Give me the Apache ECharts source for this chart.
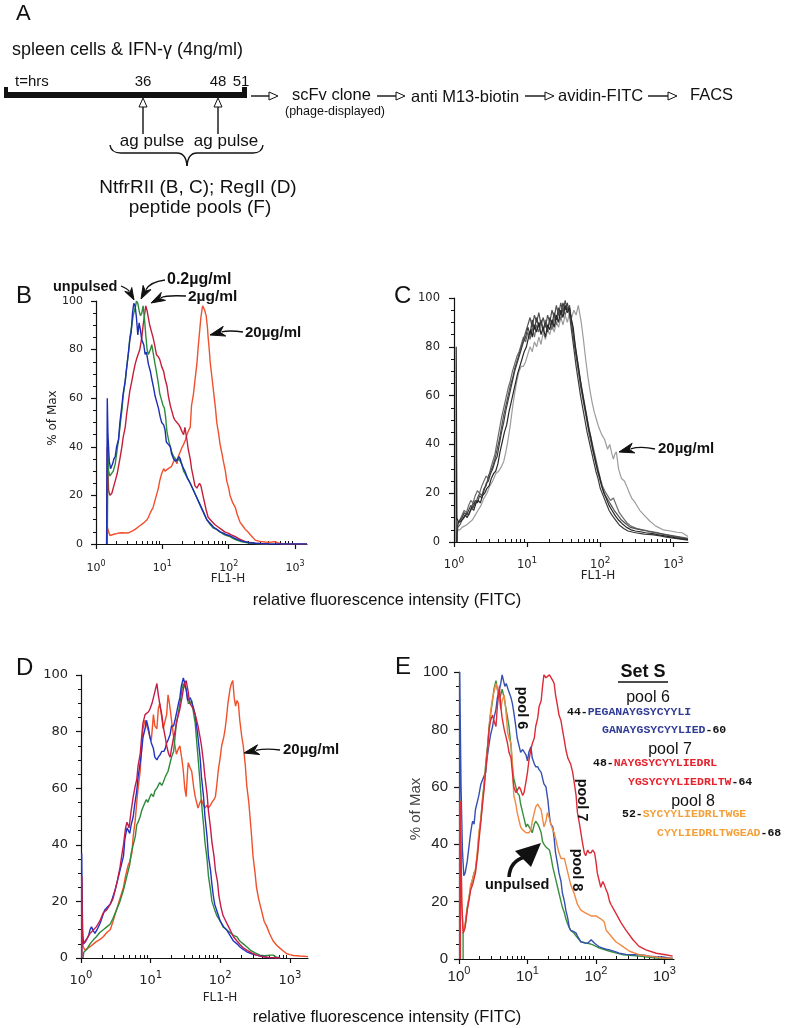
<!DOCTYPE html>
<html><head><meta charset="utf-8">
<script src="https://cdn.jsdelivr.net/npm/echarts@6/dist/echarts.min.js"></script>
<style>html,body{margin:0;padding:0;background:#fff}#c{width:785px;height:1028px}</style>
</head><body><div id="c"></div>
<script>
// ---------- DATA (x = log10 of FL1-H intensity, y = % of Max) ----------
const decadeValues = [0,1,2,3];          // tick labels 10^0 .. 10^3
const yTicks = [0,20,40,60,80,100];

// Panel B
const B_unpulsed = [[0.16,0],[0.17,60],[0.18,45],[0.20,34],[0.22,31],[0.25,33],[0.27,35],[0.29,36],[0.31,40],[0.34,43],[0.36,50],[0.39,57],[0.41,62],[0.44,67],[0.46,72],[0.49,79],[0.51,84],[0.53,87],[0.55,95],[0.57,99],[0.59,98],[0.61,93],[0.63,86],[0.65,91],[0.67,88],[0.69,84],[0.72,82],[0.74,78],[0.76,79],[0.79,74],[0.82,71],[0.84,68],[0.87,64],[0.89,61],[0.92,58],[0.94,56],[0.97,52],[0.99,50],[1.02,49],[1.04,47],[1.06,42],[1.09,41],[1.12,40],[1.14,37],[1.17,35],[1.20,34],[1.23,35],[1.25,36],[1.27,35],[1.29,33],[1.32,31],[1.34,30],[1.38,27],[1.42,25],[1.47,22],[1.52,19],[1.57,16],[1.62,13],[1.67,10],[1.72,8.5],[1.77,7],[1.82,6],[1.87,5],[1.92,4.5],[1.97,3.8],[2.02,3.4],[2.07,2.6],[2.12,2],[2.2,1.2],[2.3,0.6],[2.4,0.3],[2.6,0],[3.18,0]];
const B_02 = [[0.17,0],[0.18,38],[0.19,30],[0.21,28],[0.24,28],[0.26,30],[0.29,33],[0.31,37],[0.34,43],[0.36,48],[0.39,55],[0.41,61],[0.44,67],[0.46,72],[0.49,79],[0.51,85],[0.54,90],[0.56,94],[0.59,97],[0.61,100],[0.63,99],[0.65,96],[0.67,94],[0.69,95],[0.71,98],[0.73,93],[0.75,86],[0.77,80],[0.79,78],[0.82,80],[0.84,82],[0.86,79],[0.89,74],[0.91,71],[0.94,66],[0.96,62],[0.99,59],[1.01,57],[1.03,56],[1.05,52],[1.07,46],[1.10,42],[1.12,40],[1.14,38],[1.17,36],[1.20,35],[1.22,34],[1.25,35],[1.27,34],[1.29,33],[1.32,30],[1.34,29],[1.38,27],[1.42,25],[1.47,22],[1.52,19],[1.57,16],[1.62,13],[1.67,10],[1.72,8],[1.77,6.5],[1.82,6],[1.87,5],[1.92,4],[1.97,3.5],[2.02,3],[2.07,2.2],[2.12,1.6],[2.2,0.9],[2.3,0.4],[2.4,0.2],[2.6,0]];
const B_2 = [[0.16,0],[0.17,40],[0.18,30],[0.19,22],[0.21,20],[0.24,21],[0.27,24],[0.29,26],[0.32,29],[0.34,32],[0.36,35],[0.39,40],[0.41,44],[0.44,48],[0.46,53],[0.49,59],[0.51,63],[0.54,67],[0.56,70],[0.59,74],[0.61,76],[0.64,76],[0.66,80],[0.69,85],[0.71,90],[0.73,94],[0.75,98],[0.77,96],[0.79,93],[0.81,90],[0.84,87],[0.86,85],[0.89,81],[0.91,78],[0.94,77],[0.96,76],[0.99,73],[1.02,71],[1.04,68],[1.07,65],[1.09,61],[1.12,57],[1.14,55],[1.17,52],[1.19,51],[1.22,50],[1.25,49],[1.27,48],[1.30,46],[1.32,45],[1.34,48],[1.37,43],[1.39,39],[1.42,35],[1.44,31],[1.47,27],[1.49,24],[1.52,23],[1.54,23],[1.56,25],[1.58,24],[1.62,19],[1.66,14],[1.69,11],[1.74,9.5],[1.79,8],[1.84,7],[1.89,6],[1.94,5],[2.0,4.4],[2.05,3.6],[2.1,3],[2.15,2.2],[2.2,1.6],[2.25,1],[2.3,0.7],[2.4,0.3],[2.5,0.1],[2.6,0]];
const B_20 = [[0.16,0],[0.17,7],[0.19,5],[0.21,3.5],[0.24,3.5],[0.27,4],[0.30,3.8],[0.34,4.5],[0.37,5],[0.39,4.6],[0.42,4.2],[0.45,4.5],[0.49,4.6],[0.52,5],[0.55,5.4],[0.59,6],[0.62,6.5],[0.66,7.5],[0.69,8],[0.72,8.7],[0.74,9],[0.77,10],[0.79,11],[0.82,13],[0.86,15],[0.88,17],[0.91,20],[0.94,23],[0.96,26],[0.99,29],[1.02,31],[1.04,30],[1.07,30],[1.09,31],[1.12,31],[1.14,32],[1.17,34],[1.19,35],[1.22,33],[1.24,36],[1.27,38],[1.30,40],[1.32,41],[1.35,43],[1.37,45],[1.40,47],[1.42,48],[1.44,57],[1.47,62],[1.49,67],[1.52,74],[1.54,81],[1.56,87],[1.58,93],[1.60,97],[1.61,98],[1.63,98],[1.64,96],[1.66,94],[1.68,89],[1.69,85],[1.71,79],[1.72,75],[1.75,68],[1.77,63],[1.80,56],[1.82,50],[1.85,45],[1.87,41],[1.90,37],[1.92,34],[1.95,30],[1.97,26],[2.0,23],[2.02,20],[2.06,17],[2.1,15],[2.13,12],[2.17,9],[2.21,7.5],[2.25,6],[2.29,5],[2.32,4],[2.36,2.8],[2.4,1.6],[2.45,1.2],[2.5,1],[2.55,0.8],[2.6,0.7],[2.65,0.8],[2.7,1],[2.75,0.4],[2.8,0],[3.18,0]];

// Panel C (five grey overlays, lightest = 20 ug/ml)
const C_1 = [[0.03,0],[0.03,80],[0.04,10],[0.06,8],[0.09,8.5],[0.12,9.5],[0.15,11],[0.18,10],[0.21,12],[0.24,14],[0.27,13],[0.30,16],[0.33,17],[0.36,16],[0.39,19],[0.42,20],[0.45,22],[0.48,23],[0.51,26],[0.54,28],[0.57,29],[0.60,32],[0.63,37],[0.66,41],[0.69,45],[0.72,48],[0.75,53],[0.78,57],[0.81,61],[0.84,65],[0.87,69],[0.90,72],[0.93,75],[0.96,78],[0.99,80],[1.02,84],[1.05,87],[1.07,84],[1.10,89],[1.13,86],[1.16,90],[1.19,85],[1.22,88],[1.25,84],[1.28,89],[1.31,87],[1.34,91],[1.37,88],[1.40,93],[1.43,90],[1.46,95],[1.49,92],[1.52,97],[1.55,94],[1.58,96],[1.60,92],[1.63,88],[1.66,80],[1.69,74],[1.72,68],[1.75,62],[1.78,57],[1.81,52],[1.84,47],[1.87,43],[1.90,38],[1.93,34],[1.96,30],[1.99,27],[2.02,23],[2.05,20],[2.08,18],[2.12,15],[2.16,13],[2.20,11],[2.25,9],[2.30,7.5],[2.36,6],[2.42,5],[2.48,4.5],[2.55,4.2],[2.62,3.8],[2.70,3.5],[2.78,3],[2.86,2.6],[2.94,2.2],[3.02,1.8],[3.10,1.4],[3.2,1]];
const C_2 = [[0.04,0],[0.05,7],[0.08,9],[0.11,10],[0.14,12],[0.17,11],[0.20,13],[0.23,15],[0.26,14],[0.29,17],[0.32,16],[0.35,19],[0.38,18],[0.41,21],[0.44,24],[0.47,25],[0.50,28],[0.53,30],[0.56,33],[0.59,35],[0.62,40],[0.65,45],[0.68,49],[0.71,54],[0.74,58],[0.77,62],[0.80,66],[0.83,70],[0.86,73],[0.89,76],[0.92,79],[0.95,82],[0.98,84],[1.01,88],[1.04,85],[1.07,91],[1.10,87],[1.13,92],[1.16,88],[1.19,91],[1.22,87],[1.25,90],[1.28,86],[1.31,92],[1.34,89],[1.37,94],[1.40,91],[1.43,96],[1.46,93],[1.49,98],[1.52,95],[1.55,98],[1.58,93],[1.61,86],[1.64,79],[1.67,72],[1.70,66],[1.73,60],[1.76,55],[1.79,50],[1.82,45],[1.85,41],[1.88,37],[1.91,33],[1.94,29],[1.97,26],[2.00,22],[2.04,19],[2.08,16],[2.12,13],[2.16,11],[2.21,9],[2.26,7],[2.32,5.5],[2.38,4.5],[2.45,4],[2.52,3.6],[2.6,3.2],[2.7,3],[2.8,2.6],[2.9,2],[3.0,1.6],[3.1,1.2],[3.2,0.8]];
const C_3 = [[0.04,0],[0.05,6],[0.08,7],[0.11,9],[0.14,10],[0.17,12],[0.20,11],[0.23,13],[0.26,16],[0.29,15],[0.32,18],[0.35,20],[0.38,19],[0.41,22],[0.44,23],[0.47,27],[0.50,29],[0.53,31],[0.56,34],[0.59,38],[0.62,42],[0.65,47],[0.68,52],[0.71,56],[0.74,60],[0.77,64],[0.80,67],[0.83,71],[0.86,74],[0.89,77],[0.92,80],[0.95,83],[0.98,86],[1.01,89],[1.04,92],[1.07,88],[1.10,93],[1.13,90],[1.16,94],[1.19,89],[1.22,92],[1.25,88],[1.28,93],[1.31,90],[1.34,95],[1.37,92],[1.40,97],[1.43,93],[1.46,98],[1.49,94],[1.52,99],[1.55,95],[1.58,97],[1.61,90],[1.64,82],[1.67,76],[1.70,70],[1.73,64],[1.76,59],[1.79,54],[1.82,49],[1.85,44],[1.88,40],[1.91,36],[1.94,32],[1.97,28],[2.0,25],[2.03,22],[2.07,19],[2.11,17],[2.15,15],[2.19,13],[2.24,11],[2.29,9],[2.35,7.5],[2.41,6],[2.48,5.5],[2.56,5],[2.64,4.5],[2.72,4],[2.8,3.5],[2.9,3],[3.0,2.5],[3.1,2],[3.2,1.5]];
const C_4 = [[0.04,0],[0.05,8],[0.08,9],[0.11,11],[0.14,13],[0.17,12],[0.20,15],[0.23,17],[0.26,16],[0.29,19],[0.32,21],[0.35,20],[0.38,23],[0.41,25],[0.44,27],[0.47,26],[0.50,30],[0.53,33],[0.56,36],[0.59,41],[0.62,46],[0.65,51],[0.68,55],[0.71,59],[0.74,63],[0.77,66],[0.80,70],[0.83,73],[0.86,76],[0.89,78],[0.92,81],[0.95,84],[0.98,82],[1.01,86],[1.04,83],[1.07,88],[1.10,84],[1.13,89],[1.16,86],[1.19,90],[1.22,86],[1.25,91],[1.28,88],[1.31,90],[1.34,87],[1.37,92],[1.40,89],[1.43,94],[1.46,91],[1.49,96],[1.52,93],[1.55,96],[1.58,95],[1.61,89],[1.64,84],[1.67,78],[1.70,72],[1.73,66],[1.76,61],[1.79,56],[1.82,51],[1.85,46],[1.88,42],[1.91,38],[1.94,34],[1.97,30],[2.0,26],[2.03,23],[2.06,21],[2.1,19],[2.14,17],[2.18,18],[2.22,15],[2.26,12],[2.31,10],[2.36,8],[2.42,6.5],[2.5,5.5],[2.58,5],[2.66,4.5],[2.76,4],[2.86,3.2],[2.96,2.5],[3.06,2],[3.2,1.2]];
const C_20 = [[0.04,0],[0.05,5],[0.08,5],[0.11,6],[0.14,6.5],[0.17,7],[0.21,8],[0.25,9],[0.29,11],[0.33,13],[0.37,15],[0.41,18],[0.45,20],[0.49,23],[0.53,25],[0.57,28],[0.61,29],[0.65,31],[0.68,33],[0.71,37],[0.74,42],[0.77,48],[0.80,55],[0.83,61],[0.86,66],[0.89,70],[0.92,72],[0.95,72],[0.98,74],[1.01,77],[1.04,80],[1.07,78],[1.10,82],[1.13,80],[1.16,84],[1.19,81],[1.22,86],[1.25,83],[1.28,87],[1.31,85],[1.34,89],[1.37,86],[1.40,90],[1.43,88],[1.46,92],[1.49,89],[1.52,93],[1.55,90],[1.58,94],[1.61,92],[1.64,95],[1.67,93],[1.70,97],[1.72,97],[1.74,90],[1.77,83],[1.80,75],[1.83,68],[1.86,62],[1.89,57],[1.92,53],[1.95,50],[1.98,47],[2.02,44],[2.06,42],[2.1,38],[2.13,40],[2.16,36],[2.18,34],[2.20,36],[2.22,37],[2.25,30],[2.29,26],[2.33,25],[2.36,23],[2.40,20],[2.43,18],[2.48,16],[2.54,13],[2.60,11],[2.68,8.5],[2.76,6.5],[2.86,5],[2.96,4.5],[3.05,4],[3.12,3.8],[3.2,2.3]];

// Panel D
const D_blue = [[0.01,0],[0.01,37],[0.02,8],[0.04,5],[0.07,6],[0.11,8],[0.13,10],[0.15,11],[0.18,9.5],[0.2,8.7],[0.23,10],[0.27,12],[0.30,14],[0.34,17],[0.38,18],[0.42,19],[0.45,21],[0.49,24],[0.52,27],[0.56,31],[0.58,33],[0.61,36],[0.63,42],[0.66,46],[0.68,45],[0.70,44],[0.72,47],[0.75,50],[0.77,54],[0.80,59],[0.82,64],[0.85,69],[0.87,73],[0.89,78],[0.92,81],[0.94,84],[0.96,82],[0.97,81],[0.99,78],[1.01,76],[1.04,74],[1.06,71],[1.09,70],[1.11,71],[1.14,72],[1.16,73],[1.19,73],[1.21,74],[1.23,76],[1.25,77],[1.28,79],[1.30,82],[1.33,82],[1.35,84],[1.37,84],[1.40,90],[1.42,92],[1.44,96],[1.47,99],[1.49,97],[1.51,95],[1.53,91],[1.54,91],[1.57,92],[1.59,92],[1.62,88],[1.64,86],[1.66,82],[1.68,78],[1.71,71],[1.73,64],[1.76,57],[1.78,50],[1.81,43],[1.83,36],[1.86,31],[1.88,26],[1.90,22],[1.92,19],[1.96,16],[2.0,13],[2.05,11],[2.09,10],[2.14,8],[2.19,6],[2.24,5],[2.28,4],[2.33,3],[2.38,2.2],[2.45,1.5],[2.52,1],[2.6,0.6],[2.67,0.2],[2.86,0]];
const D_green = [[0.03,0],[0.04,2],[0.08,3],[0.13,5],[0.18,6.5],[0.22,7.5],[0.27,9],[0.32,10],[0.37,11],[0.42,12],[0.46,14],[0.51,17],[0.56,20],[0.61,24],[0.63,26],[0.66,29],[0.70,33],[0.72,37],[0.75,40],[0.78,43],[0.80,47],[0.82,48],[0.85,50],[0.87,52],[0.89,52],[0.92,55],[0.94,56],[0.96,55],[0.99,57],[1.01,58],[1.04,57],[1.06,59],[1.09,60],[1.11,61],[1.13,62],[1.16,61],[1.18,62],[1.21,64],[1.23,65],[1.25,66],[1.28,69],[1.30,71],[1.33,73],[1.35,78],[1.37,83],[1.40,87],[1.42,90],[1.45,95],[1.47,97],[1.49,96],[1.51,95],[1.53,92],[1.54,90],[1.57,90],[1.59,91],[1.62,86],[1.64,83],[1.66,77],[1.68,71],[1.71,62],[1.73,55],[1.76,47],[1.78,41],[1.81,35],[1.83,29],[1.86,24],[1.88,20],[1.92,17],[1.95,15],[2.0,13],[2.04,11],[2.09,10],[2.14,9],[2.19,8],[2.24,7.5],[2.28,6],[2.33,5],[2.38,4],[2.43,2.8],[2.5,1.8],[2.57,1],[2.64,0.8],[2.71,1],[2.76,1],[2.8,0.4],[2.86,0]];
const D_red = [[0.01,0],[0.01,29],[0.02,10],[0.03,5],[0.06,6],[0.09,7],[0.13,8.7],[0.18,10],[0.22,11],[0.27,13],[0.32,16],[0.37,17],[0.42,19],[0.46,21],[0.49,24],[0.52,27],[0.56,32],[0.59,37],[0.61,40],[0.64,46],[0.66,48],[0.69,46],[0.72,52],[0.75,57],[0.78,61],[0.80,63],[0.82,68],[0.85,72],[0.87,78],[0.89,83],[0.92,86],[0.94,86],[0.97,87],[0.99,88],[1.02,90],[1.04,92],[1.07,95],[1.09,97],[1.11,93],[1.13,90],[1.16,86],[1.18,82],[1.21,78],[1.23,75],[1.26,72],[1.28,71],[1.30,74],[1.33,78],[1.35,80],[1.37,83],[1.40,86],[1.42,88],[1.45,92],[1.47,95],[1.49,97],[1.51,98],[1.54,94],[1.56,90],[1.59,89],[1.61,88],[1.64,86],[1.66,84],[1.68,82],[1.71,78],[1.73,75],[1.76,69],[1.78,64],[1.81,58],[1.83,52],[1.86,46],[1.88,41],[1.91,36],[1.93,31],[1.96,27],[1.98,22],[2.01,18],[2.04,15],[2.08,13],[2.12,11],[2.16,9],[2.19,7.5],[2.24,6],[2.29,4.6],[2.33,3.6],[2.38,2.8],[2.45,1.8],[2.52,1],[2.6,0.5],[2.71,0.2],[2.86,0]];
const D_20 = [[0.01,0],[0.01,29],[0.03,4],[0.06,2.8],[0.10,3.5],[0.13,4],[0.18,5],[0.22,5.8],[0.27,6.5],[0.32,7.5],[0.37,9],[0.42,10],[0.46,13],[0.51,17],[0.56,21],[0.61,25],[0.64,29],[0.66,31],[0.68,33],[0.70,34],[0.73,37],[0.75,43],[0.78,49],[0.80,55],[0.82,60],[0.85,66],[0.87,74],[0.89,81],[0.92,84],[0.94,84],[0.97,80],[0.99,78],[1.01,77],[1.04,86],[1.06,82],[1.09,81],[1.11,88],[1.13,90],[1.16,85],[1.18,81],[1.21,84],[1.23,86],[1.25,93],[1.27,90],[1.28,88],[1.31,82],[1.33,78],[1.35,75],[1.37,72],[1.40,74],[1.42,75],[1.45,70],[1.47,66],[1.49,60],[1.51,57],[1.53,66],[1.54,69],[1.57,67],[1.59,66],[1.62,60],[1.64,57],[1.66,55],[1.68,53],[1.71,55],[1.73,56],[1.76,54],[1.78,53],[1.81,54],[1.83,53],[1.86,54],[1.88,55],[1.91,56],[1.93,57],[1.95,61],[1.97,66],[2.0,71],[2.02,75],[2.05,78],[2.07,81],[2.09,85],[2.11,90],[2.14,95],[2.16,97],[2.18,98],[2.20,92],[2.22,89],[2.24,91],[2.26,90],[2.28,84],[2.31,78],[2.33,75],[2.36,68],[2.38,61],[2.41,55],[2.43,49],[2.45,43],[2.47,36],[2.50,30],[2.52,25],[2.55,21],[2.59,17],[2.63,13],[2.67,11],[2.71,8.5],[2.76,6],[2.81,4.5],[2.86,3.4],[2.91,2.4],[2.95,1.6],[3.0,1.2],[3.05,0.9],[3.1,0.8],[3.14,0.7],[3.2,0.6],[3.26,0.5]];

// Panel E (Set S peptide pools)
const E_pool6 = [[0.01,0],[0.01,100],[0.03,60],[0.05,38],[0.07,29],[0.09,30],[0.12,34],[0.14,38],[0.17,44],[0.19,47],[0.20,48],[0.22,47],[0.24,52],[0.27,55],[0.29,57],[0.32,61],[0.34,61],[0.37,64],[0.39,65],[0.41,70],[0.44,75],[0.46,78],[0.49,81],[0.51,84],[0.54,87],[0.56,91],[0.59,94],[0.61,96],[0.63,99],[0.65,97],[0.67,95],[0.69,96],[0.71,96],[0.73,93],[0.76,91],[0.78,89],[0.80,86],[0.83,81],[0.85,77],[0.88,74],[0.90,72],[0.93,73],[0.95,73],[0.98,71],[1.0,69],[1.02,72],[1.05,74],[1.07,70],[1.10,68],[1.12,67],[1.15,67],[1.17,66],[1.20,65],[1.22,63],[1.24,61],[1.27,60],[1.29,60],[1.30,55],[1.32,50],[1.34,47],[1.37,46],[1.39,42],[1.41,37],[1.44,33],[1.46,30],[1.49,27],[1.51,23],[1.54,20],[1.56,17],[1.59,14],[1.61,11],[1.63,10],[1.68,9.5],[1.71,9],[1.73,8],[1.78,6],[1.83,5.6],[1.88,5.5],[1.93,6.7],[1.98,5.5],[2.0,5],[2.05,4.2],[2.1,3.8],[2.15,3.4],[2.2,3.2],[2.29,2.5],[2.34,2],[2.44,1.6],[2.54,1.5],[2.63,1.5],[2.73,1.2],[2.78,1],[2.88,0.8],[2.98,0.7],[3.08,0.3],[3.12,0.3]];
const E_pool7 = [[0.02,0],[0.02,55],[0.04,20],[0.06,9],[0.09,11],[0.12,17],[0.15,21],[0.17,24],[0.20,26],[0.22,28],[0.24,30],[0.27,36],[0.29,41],[0.32,48],[0.34,53],[0.37,60],[0.39,66],[0.42,74],[0.44,80],[0.46,83],[0.49,85],[0.51,83],[0.54,81],[0.56,88],[0.59,95],[0.61,88],[0.63,84],[0.66,80],[0.68,78],[0.71,75],[0.73,72],[0.76,70],[0.78,65],[0.80,60],[0.83,58],[0.85,58],[0.88,60],[0.90,59],[0.93,57],[0.95,58],[0.98,62],[1.0,65],[1.02,69],[1.05,73],[1.07,75],[1.10,77],[1.12,81],[1.15,84],[1.17,88],[1.20,90],[1.22,95],[1.24,99],[1.27,98],[1.29,98],[1.32,99],[1.34,99],[1.37,97],[1.39,96],[1.41,92],[1.44,88],[1.46,85],[1.49,83],[1.51,80],[1.54,76],[1.56,73],[1.59,70],[1.61,69],[1.63,68],[1.66,65],[1.68,62],[1.71,57],[1.73,51],[1.76,47],[1.78,44],[1.80,41],[1.83,37],[1.85,36],[1.88,38],[1.90,37],[1.93,37],[1.95,38],[1.98,37],[2.0,34],[2.02,30],[2.05,27],[2.07,25],[2.10,27],[2.12,26],[2.15,24],[2.17,23],[2.20,20],[2.22,19],[2.29,16],[2.37,12.5],[2.44,10],[2.54,6.7],[2.63,4.4],[2.73,3.2],[2.88,2],[3.02,1.5],[3.12,1]];
const E_pool8 = [[0.02,0],[0.02,55],[0.04,20],[0.06,10],[0.09,12],[0.12,17],[0.15,22],[0.17,26],[0.20,28],[0.22,30],[0.24,31],[0.27,38],[0.29,44],[0.32,49],[0.34,54],[0.37,61],[0.39,67],[0.42,74],[0.44,81],[0.46,86],[0.49,91],[0.51,93],[0.54,96],[0.56,94],[0.58,92],[0.61,87],[0.63,90],[0.66,92],[0.68,88],[0.71,79],[0.73,77],[0.76,75],[0.78,68],[0.80,57],[0.83,54],[0.85,51],[0.88,48],[0.90,46],[0.93,45],[0.95,45],[0.98,44],[1.0,44],[1.02,44],[1.05,45],[1.07,48],[1.10,51],[1.12,53],[1.15,54],[1.17,53],[1.20,52],[1.22,49],[1.24,46],[1.27,48],[1.29,51],[1.32,49],[1.34,47],[1.37,45],[1.39,44],[1.41,42],[1.44,39],[1.46,37],[1.49,35],[1.51,35],[1.54,35],[1.56,33],[1.59,30],[1.63,26],[1.68,23],[1.73,19],[1.78,17],[1.85,16],[1.93,15],[2.0,15],[2.07,14],[2.12,13],[2.15,10],[2.22,8],[2.29,6],[2.39,4.4],[2.49,2.7],[2.63,1.5],[2.78,1],[2.98,0.3],[3.12,0.3]];
const E_unpulsed = [[0.06,0],[0.06,9],[0.09,12],[0.12,18],[0.15,22],[0.17,25],[0.20,28],[0.22,30],[0.24,31],[0.27,37],[0.29,43],[0.32,49],[0.34,55],[0.37,62],[0.39,68],[0.42,75],[0.44,81],[0.46,85],[0.49,90],[0.51,94],[0.54,97],[0.56,94],[0.59,91],[0.61,92],[0.63,94],[0.66,91],[0.68,88],[0.71,84],[0.73,81],[0.76,74],[0.78,67],[0.80,63],[0.83,60],[0.85,58],[0.88,57],[0.90,54],[0.93,51],[0.95,49],[0.98,46],[1.0,47],[1.02,47],[1.05,45],[1.07,44],[1.10,47],[1.12,48],[1.15,47],[1.17,46],[1.20,44],[1.22,41],[1.24,40],[1.27,39],[1.29,39],[1.32,38],[1.34,36],[1.37,32],[1.39,30],[1.41,28],[1.44,25],[1.46,23],[1.49,20],[1.51,18],[1.54,16],[1.56,14],[1.59,12],[1.63,10],[1.68,9],[1.71,8],[1.78,6],[1.85,5.6],[1.88,5.5],[1.95,5],[2.05,3.8],[2.2,2.7],[2.39,1.5],[2.63,1],[2.88,0.3],[3.12,0.2]];

// Set S peptide sequences
const setS = [
  {pool:'pool 6', color:'#2f3b96', a:['44-','PEGANAYGSYCYYLI',''], b:['','GANAYGSYCYYLIED','-60']},
  {pool:'pool 7', color:'#e6222c', a:['48-','NAYGSYCYYLIEDRL',''], b:['','YGSYCYYLIEDRLTW','-64']},
  {pool:'pool 8', color:'#f4a03a', a:['52-','SYCYYLIEDRLTWGE',''], b:['','CYYLIEDRLTWGEAD','-68']}
];

// ---------- CHART ----------
const SANS = '"Liberation Sans", Arial, sans-serif';
const DJ = '"DejaVu Sans", Verdana, sans-serif';
const panels = [
  {grid:{left:96, top:301, width:211, height:243}, max:3.18, fam:DJ, fs:11, xfs:11, xm:16, ym:13},
  {grid:{left:454, top:298, width:234, height:244}, max:3.2, fam:DJ, fs:11.5, xfs:11.5, xm:14, ym:14},
  {grid:{left:81, top:675, width:227, height:283}, max:3.26, fam:DJ, fs:13, xfs:13, xm:12.5, ym:13},
  {grid:{left:459, top:672, width:215, height:287}, max:3.14, fam:SANS, fs:15, xfs:15, xm:6, ym:11}
];
function minorVals(max){ const r=[]; for(let d=0; d<4; d++) for(let k=2;k<=9;k++){ const v=d+Math.log10(k); if(v<max) r.push(v);} return r; }

const grids=[], xAxes=[], yAxes=[];
panels.forEach((p,i)=>{
  grids.push(Object.assign({containLabel:false}, p.grid));
  const sfs=Math.round(p.xfs*0.75);
  xAxes.push({type:'value', gridIndex:i, min:0, max:p.max,
    axisLine:{show:true, onZero:false, lineStyle:{color:'#111', width:1.2}},
    axisTick:{show:true, customValues:decadeValues, length:5, lineStyle:{color:'#111', width:1.2}},
    axisLabel:{show:true, customValues:decadeValues, margin:p.xm, color:'#222', fontFamily:p.fam, fontSize:p.xfs,
      formatter:v=>'{b|10}{s|'+Math.round(v)+'}',
      rich:{b:{fontFamily:p.fam, fontSize:p.xfs, color:'#222', lineHeight:Math.round(p.xfs*1.28), verticalAlign:'bottom'},
            s:{fontFamily:p.fam, fontSize:sfs, color:'#222', lineHeight:sfs, verticalAlign:'top'}}},
    splitLine:{show:false}});
  xAxes.push({type:'value', gridIndex:i, min:0, max:p.max,
    axisLine:{show:false}, axisTick:{show:true, customValues:minorVals(p.max), length:3, lineStyle:{color:'#111'}},
    axisLabel:{show:false}, splitLine:{show:false}});
  yAxes.push({type:'value', gridIndex:i, min:0, max:100, interval:20,
    axisLine:{show:true, onZero:false, lineStyle:{color:'#111', width:1.2}},
    axisTick:{show:true, length:5, lineStyle:{color:'#111', width:1.2}},
    minorTick:{show:true, splitNumber:4, length:3, lineStyle:{color:'#111'}},
    axisLabel:{margin:p.ym, color:'#222', fontFamily:p.fam, fontSize:p.fs},
    splitLine:{show:false}, minorSplitLine:{show:false}});
});

function ln(gi, data, color, w){ return {type:'line', xAxisIndex:gi*2, yAxisIndex:gi, data, showSymbol:false, symbol:'none',
  lineStyle:{color, width:w||1.4}, silent:true}; }
const series = [
  ln(0,B_20,'#f0502e'), ln(0,B_2,'#c41e3a'), ln(0,B_02,'#2e8b3e'), ln(0,B_unpulsed,'#1d2db5'),
  ln(1,C_20,'#9c9c9c',1.2), ln(1,C_4,'#6a6a6a',1.2), ln(1,C_3,'#505050',1.2), ln(1,C_2,'#3c3c3c',1.2), ln(1,C_1,'#262626',1.2),
  ln(2,D_20,'#f0502a'), ln(2,D_green,'#2d8a3a'), ln(2,D_blue,'#2233c4'), ln(2,D_red,'#c41c48'),
  ln(3,E_unpulsed,'#3a8f3c'), ln(3,E_pool6,'#3550b0'), ln(3,E_pool8,'#f08a45'), ln(3,E_pool7,'#dc2b36')
];

// ---------- annotations / schematic ----------
const G=[];
function txt(s,x,y,o){ o=o||{}; G.push({type:'text', x, y, rotation:o.rot||0, z:100,
  style:{text:s, fill:o.color||'#111', fontSize:o.size||16, fontFamily:o.family||SANS, fontWeight:o.weight||'normal',
  align:o.align||'left', verticalAlign:o.va||'middle', rich:o.rich}}); }
function seg(x1,y1,x2,y2,w){ G.push({type:'line', z:100, shape:{x1,y1,x2,y2}, style:{stroke:'#111', lineWidth:w||1.2}}); }
function rect(x,y,w,h){ G.push({type:'rect', z:100, shape:{x,y,width:w,height:h}, style:{fill:'#111'}}); }
function poly(pts, fill){ G.push({type:'polygon', z:101, shape:{points:pts}, style:{fill, stroke:'#111', lineWidth:1}}); }
function bez(x1,y1,cx,cy,x2,y2,w){ G.push({type:'bezierCurve', z:100, shape:{x1,y1,x2,y2,cpx1:cx,cpy1:cy}, style:{stroke:'#111', lineWidth:w||1.3, fill:null}}); }
function headPts(tx,ty,dx,dy,L,W){ const n=Math.hypot(dx,dy); dx/=n; dy/=n; const bx=tx-dx*L, by=ty-dy*L, px=-dy, py=dx;
  return [[tx,ty],[bx+px*W,by+py*W],[bx+dx*L*0.3,by+dy*L*0.3],[bx-px*W,by-py*W]]; }
function anno(x1,y1,cx,cy,tx,ty,L,W){ L=L||13; W=W||4.5;
  const dx=tx-cx, dy=ty-cy, n=Math.hypot(dx,dy); const ex=tx-dx/n*L*0.8, ey=ty-dy/n*L*0.8;
  bez(x1,y1,cx,cy,ex,ey,1.3);
  poly(headPts(tx,ty,dx,dy,L,W),'#111'); }
function hollowRight(x1,x2,y){ seg(x1,y,x2-9,y,1.4); G.push({type:'polygon', z:101, shape:{points:[[x2,y],[x2-9,y-4],[x2-9,y+4]]}, style:{fill:'#fff', stroke:'#111', lineWidth:1}}); }
function hollowUp(x,y1,y2){ seg(x,y1,x,y2+9,1.4); G.push({type:'polygon', z:101, shape:{points:[[x,y2],[x-4,y2+9],[x+4,y2+9]]}, style:{fill:'#fff', stroke:'#111', lineWidth:1}}); }

// Panel A
txt('A',16,14,{size:22});
txt('spleen cells & IFN-\u03b3 (4ng/ml)',12,50,{size:18});
txt('t=hrs',15,82,{size:15});
txt('36',143,82,{size:15,align:'center'});
txt('48',218,82,{size:15,align:'center'});
txt('51',241,82,{size:15,align:'center'});
rect(4,92,243,6); rect(4,87,4,11); rect(242,87,5,11);
hollowUp(143,134,98); hollowUp(218,134,98);
txt('ag pulse',152,141,{size:17,align:'center'});
txt('ag pulse',226,141,{size:17,align:'center'});
// curly brace
bez(110,145,111,153,121,153,1.4); seg(121,153,177,153,1.4); bez(177,153,186,153,187,166,1.4);
bez(187,166,188,153,197,153,1.4); seg(197,153,253,153,1.4); bez(253,153,262,153,263,145,1.4);
txt('NtfrRII (B, C); RegII (D)',198,188,{size:19,align:'center'});
txt('peptide pools (F)',200,208,{size:19,align:'center'});
hollowRight(251,278,96); hollowRight(377,405,96); hollowRight(525,554,96); hollowRight(648,677,96);
txt('scFv clone',292,95,{size:16.5});
txt('(phage-displayed)',335,112,{size:12.5,align:'center'});
txt('anti M13-biotin',411,97,{size:16.5});
txt('avidin-FITC',558,96,{size:16.5});
txt('FACS',690,95,{size:16.5});

// panel letters and shared axis titles
txt('B',16,296,{size:24}); txt('C',394,296,{size:24}); txt('D',16,668,{size:24}); txt('E',395,667,{size:24});
txt('relative fluorescence intensity (FITC)',387,600,{size:16.5,align:'center'});
txt('relative fluorescence intensity (FITC)',387,1017,{size:16.5,align:'center'});
txt('FL1-H',228,579,{size:12,family:DJ,align:'center',color:'#222'});
txt('FL1-H',598,576,{size:12,family:DJ,align:'center',color:'#222'});
txt('FL1-H',220,998,{size:12,family:DJ,align:'center',color:'#222'});
txt('% of Max',53,418,{size:12,family:DJ,align:'center',rot:Math.PI/2,color:'#222'});
txt('% of Max',416,809,{size:15,align:'center',rot:Math.PI/2,color:'#444'});

// B annotations
const bold={size:15,weight:'bold'};
txt('unpulsed',53,287,{size:14.5,weight:'bold'});
anno(121,286,128,289,134,300,12,4);
txt('0.2\u00b5g/ml',167,280,{size:16,weight:'bold'});
anno(165,280,150,282,141,299,13,4.5);
txt('2\u00b5g/ml',188,297,{size:15.5,weight:'bold'});
anno(186,296,166,295,151,303,14,4.5);
txt('20\u00b5g/ml',245,333,bold);
anno(243,332,229,330,210,335,15,5);
// C, D annotations
txt('20\u00b5g/ml',658,449,bold);
anno(655,449,641,446,619,452,15,5);
txt('20\u00b5g/ml',283,750,bold);
anno(280,750,266,748,244,753,15,5);

// E annotations
txt('pool 6',522,708,{size:14.5,weight:'bold',align:'center',rot:-Math.PI/2});
txt('pool 7',582,800,{size:14.5,weight:'bold',align:'center',rot:-Math.PI/2});
txt('pool 8',577,870,{size:14.5,weight:'bold',align:'center',rot:-Math.PI/2});
txt('unpulsed',485,885,{size:14.5,weight:'bold'});
bez(509,877,510,861,525,857,3.5);
G.push({type:'polygon', z:101, shape:{points:[[541,843],[515,851],[531,867]]}, style:{fill:'#111'}});
txt('Set S',643,672,{size:18,weight:'bold',align:'center'});
seg(618,682,668,682,1.4);
const MONO='"Liberation Mono", "Courier New", monospace';
const seqPos = [
  {py:698, px:648, ax:567, ay:712, bx:602, by:730},
  {py:750, px:670, ax:593, ay:763, bx:628, by:782},
  {py:802, px:693, ax:622, ay:814, bx:657, by:833}
];
setS.forEach((s,i)=>{
  const p=seqPos[i];
  txt(s.pool,p.px,p.py,{size:16,align:'center'});
  const rich={k:{fill:'#111',fontFamily:MONO,fontSize:11.5,fontWeight:'bold'}, c:{fill:s.color,fontFamily:MONO,fontSize:11.5,fontWeight:'bold'}};
  const mk=a=>(a[0]?'{k|'+a[0]+'}':'')+'{c|'+a[1]+'}'+(a[2]?'{k|'+a[2]+'}':'');
  txt(mk(s.a),p.ax,p.ay,{rich}); txt(mk(s.b),p.bx,p.by,{rich});
});

const chart = echarts.init(document.getElementById('c'), null, {renderer:'canvas'});
chart.setOption({animation:false, backgroundColor:'#fff', grid:grids, xAxis:xAxes, yAxis:yAxes, series, graphic:{elements:G}});
</script></body></html>
